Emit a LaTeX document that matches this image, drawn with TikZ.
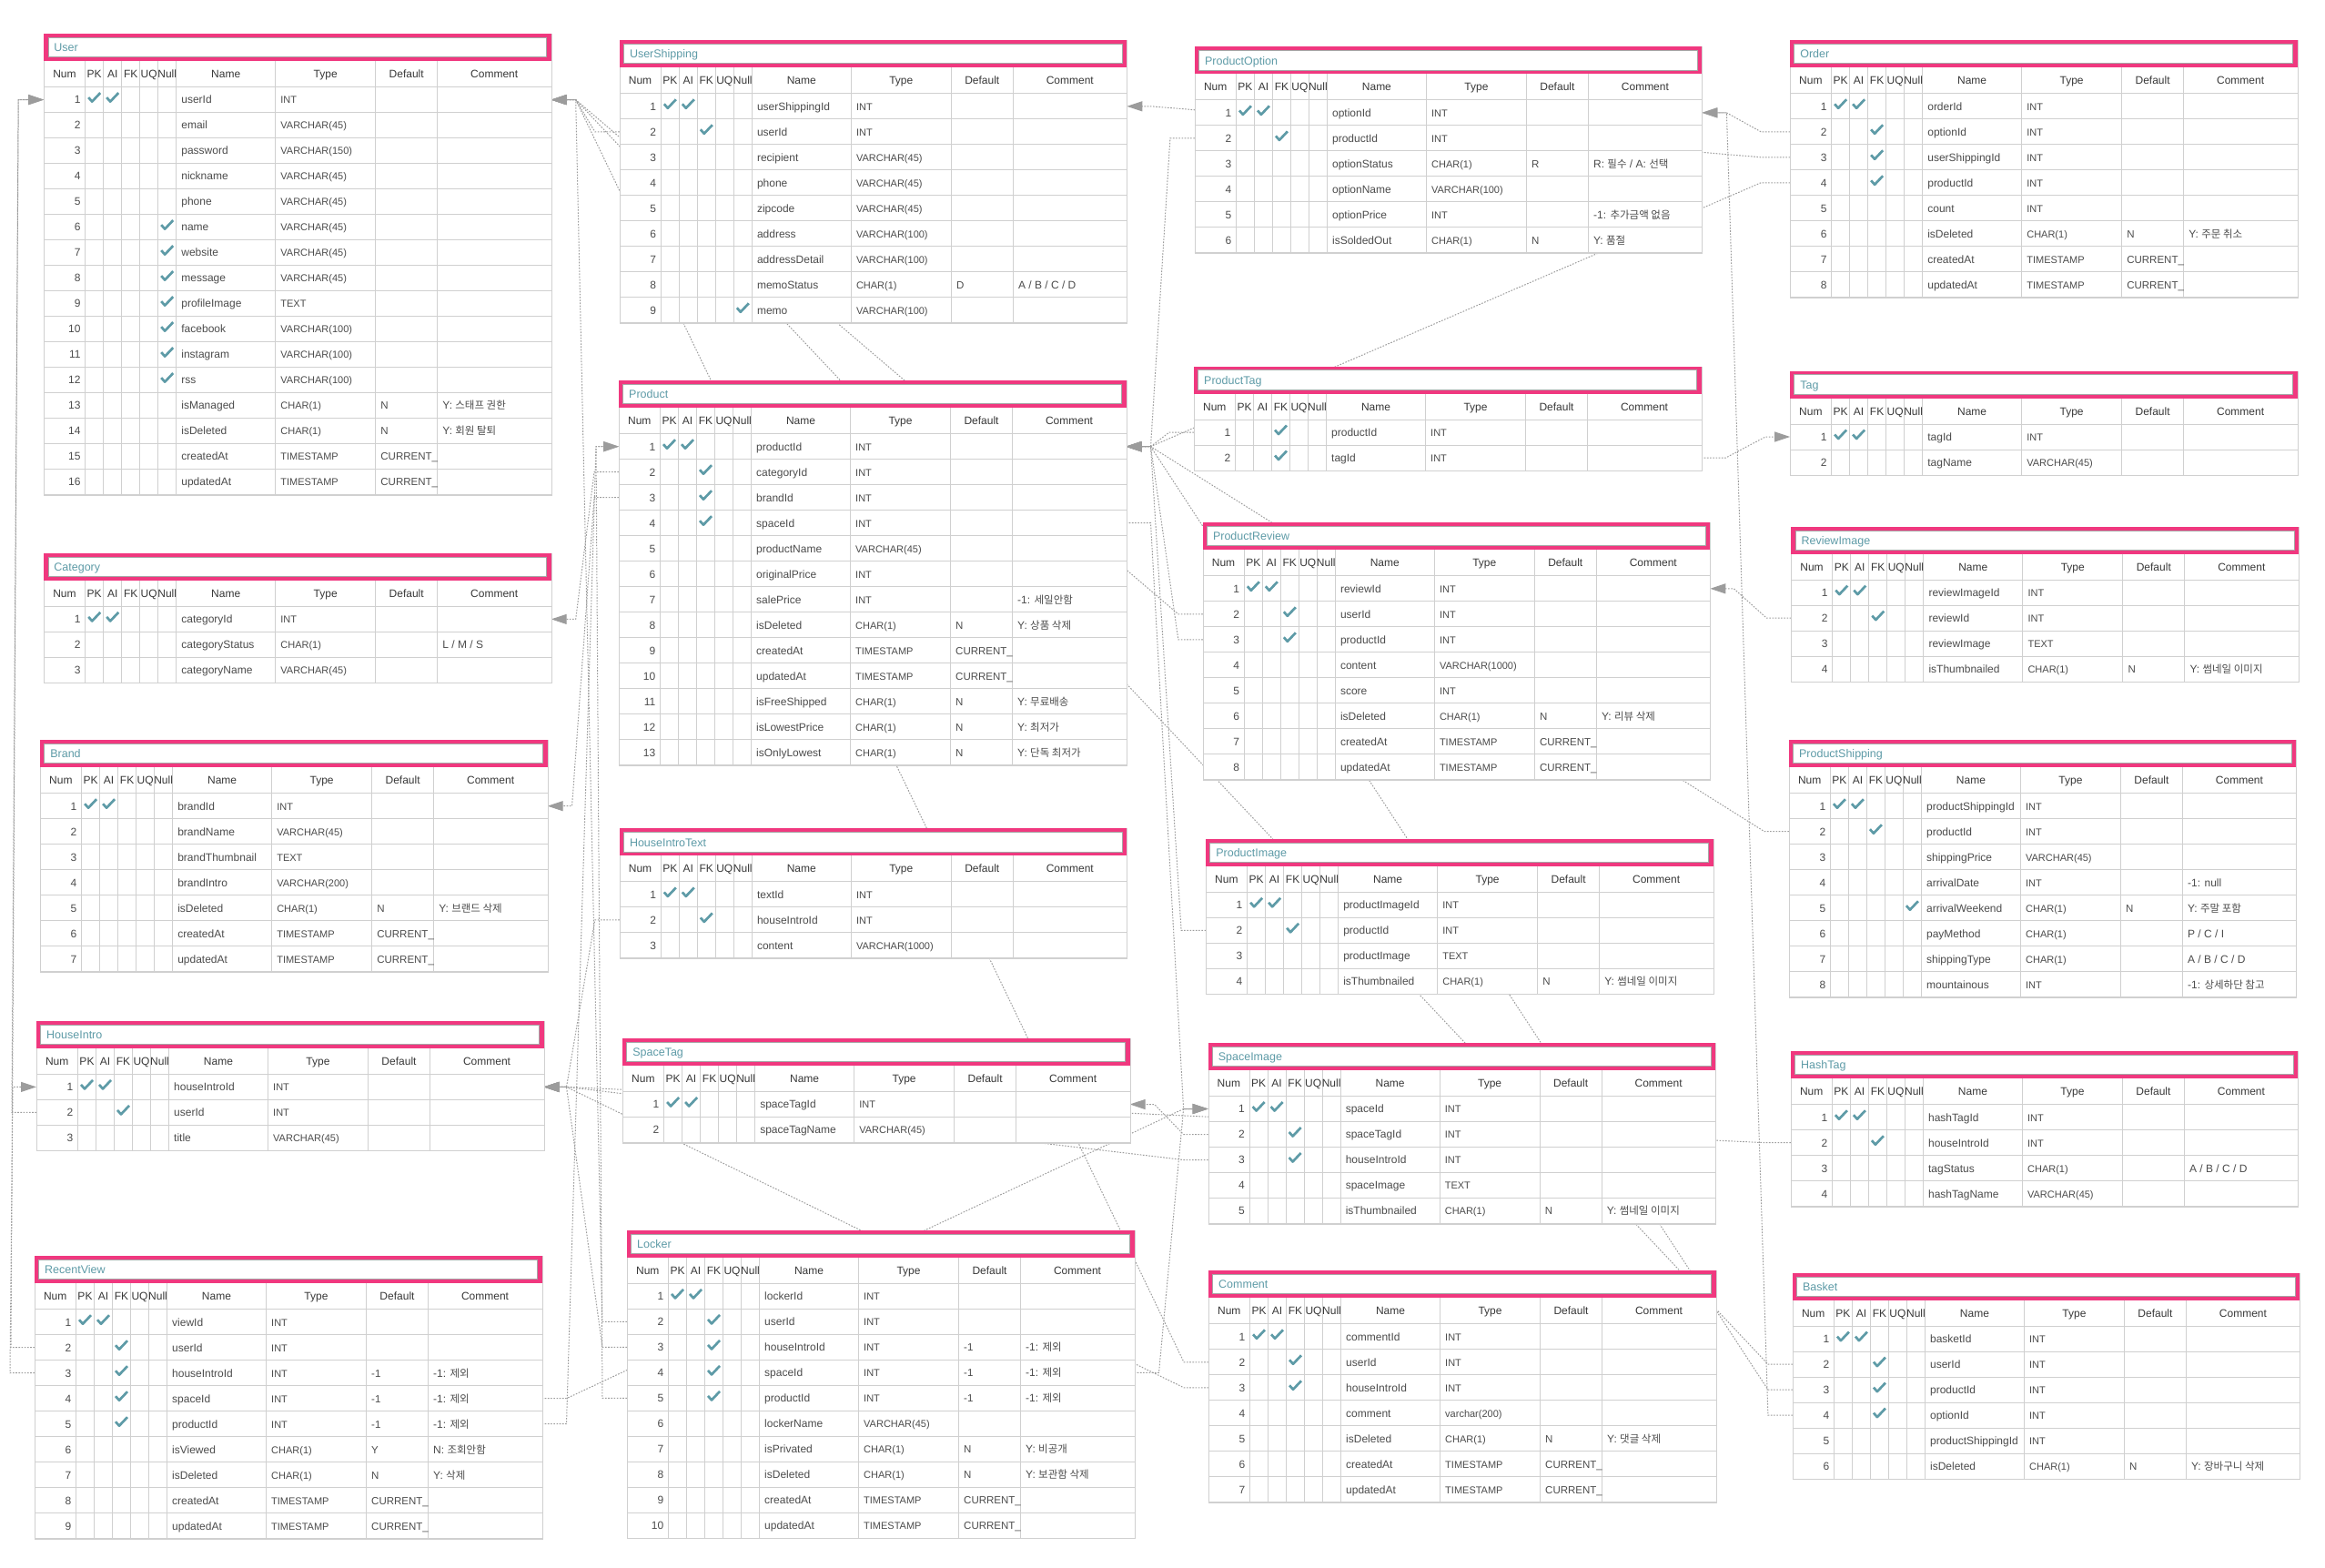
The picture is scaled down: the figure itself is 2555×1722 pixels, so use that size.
\documentclass[tikz,border=0pt]{standalone}
\usepackage{fontspec}
\setmainfont{Liberation Sans}
\newfontfamily\krfont{Noto Sans CJK KR}
\usetikzlibrary{arrows.meta,calc}
\definecolor{erpink}{HTML}{F0387F}
\definecolor{erteal}{HTML}{5E9BA7}
\definecolor{ergrid}{HTML}{D0D0D0}
\definecolor{ertext}{HTML}{4C4C4C}
\definecolor{erline}{HTML}{9C9C9C}
\pgfdeclarelayer{paper}
\pgfdeclarelayer{links}
\pgfsetlayers{paper,links,main}

\tikzset{
  tblbox/.style={draw=ergrid,fill=white,line width=1pt,inner sep=0pt,minimum width=557.5pt,anchor=north west},
  cell/.style={inner sep=0pt,anchor=base west,font=\fontsize{12}{14}\selectfont,text=ertext},
  typecell/.style={cell,font=\fontsize{11}{13}\selectfont},
  defcell/.style={cell,font=\fontsize{11.5}{13}\selectfont},
  numcell/.style={cell,anchor=base east},
  headcell/.style={cell,anchor=base,text=black!78},
  titlecell/.style={cell,text=erteal,font=\fontsize{12.5}{14}\selectfont},
  gridline/.style={ergrid,line width=1pt},
  checkmark/.style={erteal,line width=2.7pt,line join=round},
  fkline/.style={erline,line width=1pt,dash pattern=on 1.6pt off 1.6pt,-{Triangle[length=17pt,width=11pt]}}
}

\newcommand\kr[1]{{\krfont\fontsize{11.5}{13}\selectfont #1}}
% one check mark in column x of the current row
\newcommand\ercheck[1]{\draw[checkmark] (#1-6.5,\ery-2.5) -- (#1-2.5,\ery+2) -- (#1+6.5,\ery-7.5);}
\newcommand\erchecks[5]{\ifnum#1=1 \ercheck{55.5}\fi\ifnum#2=1 \ercheck{75.5}\fi\ifnum#3=1 \ercheck{95.5}\fi\ifnum#4=1 \ercheck{115.5}\fi\ifnum#5=1 \ercheck{135.5}\fi}
% row: num, flags (PK AI FK UQ Null), name, type, default, comment
\newcommand\erow[6]{%
  \pgfmathsetmacro\ery{58.5+28*#1-14}%
  \pgfmathsetmacro\erb{\ery+4.3}%
  \coordinate (\erid-#1-w) at (0,\ery);
  \coordinate (\erid-#1-e) at (557.5,\ery);
  \node[numcell] (\erid-#1-num) at (40.5,\erb) {#1};
  \erchecks#2
  \node[cell] (\erid-#1-name) at (151,\erb) {#3};
  \node[typecell] (\erid-#1-type) at (260,\erb) {#4};
  \def\ertmp{#5}\ifx\ertmp\empty\else\node[defcell] (\erid-#1-def) at (370,\erb) {#5};\fi
  \def\ertmp{#6}\ifx\ertmp\empty\else\node[cell] (\erid-#1-note) at (438,\erb) {#6};\fi
}
% table: id, title, x, y, rows, row list
\newcommand\ertable[6]{%
  \begin{scope}[shift={(#3,#4)}]
  \def\erid{#1}%
  \pgfmathsetmacro\erh{58.5+28*#5}%
  \node[tblbox,minimum height=\erh pt] (#1) at (0,0) {};
  \fill[erpink] (0,0) rectangle (557.5,30);
  \draw[fill=white,draw=black!35,line width=1pt] (4.8,4.4) rectangle (552.7,25.6);
  \node[titlecell] (#1-title) at (11,19.6) {#2};
  \draw[gridline] (0,58.5) -- (557.5,58.5);
  \foreach \gy in {1,...,#5} \draw[gridline] (0,58.5+28*\gy) -- (557.5,58.5+28*\gy);
  \foreach \gx in {45.5,65.5,85.5,105.5,125.5,145.5,254.5,364.5,432.5} \draw[gridline] (\gx,30) -- (\gx,\erh);
  \foreach \hx/\hlab in {22.75/Num,55.5/PK,75.5/AI,95.5/FK,115.5/UQ,135.5/Null,200/Name,309.5/Type,398.5/Default,495/Comment}
    \node[headcell] (#1-\hlab) at (\hx,48.5) {\hlab};
  #6
  \end{scope}}
% foreign key: fk row, stub, pk row, stub
\newcommand\fk[4]{\draw[fkline] (#1) -- ++(#2,0) -- ($(#3)+(#4,0)$) -- (#3);}

\begin{document}
\begin{tikzpicture}[x=1pt,y=-1pt]
\useasboundingbox (0,0) rectangle (2555,1722);
\begin{pgfonlayer}{paper}
\fill[white] (0,0) rectangle (2555,1722);
\end{pgfonlayer}

% left column
\ertable{user}{User}{48.2}{37.1}{16}{
\erow{1}{11000}{userId}{INT}{}{}
\erow{2}{00000}{email}{VARCHAR(45)}{}{}
\erow{3}{00000}{password}{VARCHAR(150)}{}{}
\erow{4}{00000}{nickname}{VARCHAR(45)}{}{}
\erow{5}{00000}{phone}{VARCHAR(45)}{}{}
\erow{6}{00001}{name}{VARCHAR(45)}{}{}
\erow{7}{00001}{website}{VARCHAR(45)}{}{}
\erow{8}{00001}{message}{VARCHAR(45)}{}{}
\erow{9}{00001}{profileImage}{TEXT}{}{}
\erow{10}{00001}{facebook}{VARCHAR(100)}{}{}
\erow{11}{00001}{instagram}{VARCHAR(100)}{}{}
\erow{12}{00001}{rss}{VARCHAR(100)}{}{}
\erow{13}{00000}{isManaged}{CHAR(1)}{N}{Y: \kr{스태프 권한}}
\erow{14}{00000}{isDeleted}{CHAR(1)}{N}{Y: \kr{회원 탈퇴}}
\erow{15}{00000}{createdAt}{TIMESTAMP}{CURRENT\_}{}
\erow{16}{00000}{updatedAt}{TIMESTAMP}{CURRENT\_}{}
}
\ertable{category}{Category}{48.2}{607.9}{3}{
\erow{1}{11000}{categoryId}{INT}{}{}
\erow{2}{00000}{categoryStatus}{CHAR(1)}{}{L / M / S}
\erow{3}{00000}{categoryName}{VARCHAR(45)}{}{}
}
\ertable{brand}{Brand}{44.1}{813.2}{7}{
\erow{1}{11000}{brandId}{INT}{}{}
\erow{2}{00000}{brandName}{VARCHAR(45)}{}{}
\erow{3}{00000}{brandThumbnail}{TEXT}{}{}
\erow{4}{00000}{brandIntro}{VARCHAR(200)}{}{}
\erow{5}{00000}{isDeleted}{CHAR(1)}{N}{Y: \kr{브랜드 삭제}}
\erow{6}{00000}{createdAt}{TIMESTAMP}{CURRENT\_}{}
\erow{7}{00000}{updatedAt}{TIMESTAMP}{CURRENT\_}{}
}
\ertable{houseintro}{HouseIntro}{40}{1121.9}{3}{
\erow{1}{11000}{houseIntroId}{INT}{}{}
\erow{2}{00100}{userId}{INT}{}{}
\erow{3}{00000}{title}{VARCHAR(45)}{}{}
}
\ertable{recentview}{RecentView}{38}{1380.2}{9}{
\erow{1}{11000}{viewId}{INT}{}{}
\erow{2}{00100}{userId}{INT}{}{}
\erow{3}{00100}{houseIntroId}{INT}{-1}{-1: \kr{제외}}
\erow{4}{00100}{spaceId}{INT}{-1}{-1: \kr{제외}}
\erow{5}{00100}{productId}{INT}{-1}{-1: \kr{제외}}
\erow{6}{00000}{isViewed}{CHAR(1)}{Y}{N: \kr{조회안함}}
\erow{7}{00000}{isDeleted}{CHAR(1)}{N}{Y: \kr{삭제}}
\erow{8}{00000}{createdAt}{TIMESTAMP}{CURRENT\_}{}
\erow{9}{00000}{updatedAt}{TIMESTAMP}{CURRENT\_}{}
}

% second column
\ertable{usershipping}{UserShipping}{680.8}{44.3}{9}{
\erow{1}{11000}{userShippingId}{INT}{}{}
\erow{2}{00100}{userId}{INT}{}{}
\erow{3}{00000}{recipient}{VARCHAR(45)}{}{}
\erow{4}{00000}{phone}{VARCHAR(45)}{}{}
\erow{5}{00000}{zipcode}{VARCHAR(45)}{}{}
\erow{6}{00000}{address}{VARCHAR(100)}{}{}
\erow{7}{00000}{addressDetail}{VARCHAR(100)}{}{}
\erow{8}{00000}{memoStatus}{CHAR(1)}{D}{A / B / C / D}
\erow{9}{00001}{memo}{VARCHAR(100)}{}{}
}
\ertable{product}{Product}{680}{418.2}{13}{
\erow{1}{11000}{productId}{INT}{}{}
\erow{2}{00100}{categoryId}{INT}{}{}
\erow{3}{00100}{brandId}{INT}{}{}
\erow{4}{00100}{spaceId}{INT}{}{}
\erow{5}{00000}{productName}{VARCHAR(45)}{}{}
\erow{6}{00000}{originalPrice}{INT}{}{}
\erow{7}{00000}{salePrice}{INT}{}{-1: \kr{세일안함}}
\erow{8}{00000}{isDeleted}{CHAR(1)}{N}{Y: \kr{상품 삭제}}
\erow{9}{00000}{createdAt}{TIMESTAMP}{CURRENT\_}{}
\erow{10}{00000}{updatedAt}{TIMESTAMP}{CURRENT\_}{}
\erow{11}{00000}{isFreeShipped}{CHAR(1)}{N}{Y: \kr{무료배송}}
\erow{12}{00000}{isLowestPrice}{CHAR(1)}{N}{Y: \kr{최저가}}
\erow{13}{00000}{isOnlyLowest}{CHAR(1)}{N}{Y: \kr{단독 최저가}}
}
\ertable{houseintrotext}{HouseIntroText}{680.8}{910.4}{3}{
\erow{1}{11000}{textId}{INT}{}{}
\erow{2}{00100}{houseIntroId}{INT}{}{}
\erow{3}{00000}{content}{VARCHAR(1000)}{}{}
}
\ertable{spacetag}{SpaceTag}{684.1}{1141}{2}{
\erow{1}{11000}{spaceTagId}{INT}{}{}
\erow{2}{00000}{spaceTagName}{VARCHAR(45)}{}{}
}
\ertable{locker}{Locker}{689}{1351.9}{10}{
\erow{1}{11000}{lockerId}{INT}{}{}
\erow{2}{00100}{userId}{INT}{}{}
\erow{3}{00100}{houseIntroId}{INT}{-1}{-1: \kr{제외}}
\erow{4}{00100}{spaceId}{INT}{-1}{-1: \kr{제외}}
\erow{5}{00100}{productId}{INT}{-1}{-1: \kr{제외}}
\erow{6}{00000}{lockerName}{VARCHAR(45)}{}{}
\erow{7}{00000}{isPrivated}{CHAR(1)}{N}{Y: \kr{비공개}}
\erow{8}{00000}{isDeleted}{CHAR(1)}{N}{Y: \kr{보관함 삭제}}
\erow{9}{00000}{createdAt}{TIMESTAMP}{CURRENT\_}{}
\erow{10}{00000}{updatedAt}{TIMESTAMP}{CURRENT\_}{}
}

% third column
\ertable{productoption}{ProductOption}{1312.9}{51.4}{6}{
\erow{1}{11000}{optionId}{INT}{}{}
\erow{2}{00100}{productId}{INT}{}{}
\erow{3}{00000}{optionStatus}{CHAR(1)}{R}{R: \kr{필수} / A: \kr{선택}}
\erow{4}{00000}{optionName}{VARCHAR(100)}{}{}
\erow{5}{00000}{optionPrice}{INT}{}{-1: \kr{추가금액 없음}}
\erow{6}{00000}{isSoldedOut}{CHAR(1)}{N}{Y: \kr{품절}}
}
\ertable{producttag}{ProductTag}{1312}{402.5}{2}{
\erow{1}{00100}{productId}{INT}{}{}
\erow{2}{00100}{tagId}{INT}{}{}
}
\ertable{productreview}{ProductReview}{1321.8}{574.3}{8}{
\erow{1}{11000}{reviewId}{INT}{}{}
\erow{2}{00100}{userId}{INT}{}{}
\erow{3}{00100}{productId}{INT}{}{}
\erow{4}{00000}{content}{VARCHAR(1000)}{}{}
\erow{5}{00000}{score}{INT}{}{}
\erow{6}{00000}{isDeleted}{CHAR(1)}{N}{Y: \kr{리뷰 삭제}}
\erow{7}{00000}{createdAt}{TIMESTAMP}{CURRENT\_}{}
\erow{8}{00000}{updatedAt}{TIMESTAMP}{CURRENT\_}{}
}
\ertable{productimage}{ProductImage}{1325.1}{921.8}{4}{
\erow{1}{11000}{productImageId}{INT}{}{}
\erow{2}{00100}{productId}{INT}{}{}
\erow{3}{00000}{productImage}{TEXT}{}{}
\erow{4}{00000}{isThumbnailed}{CHAR(1)}{N}{Y: \kr{썸네일 이미지}}
}
\ertable{spaceimage}{SpaceImage}{1327.6}{1146}{5}{
\erow{1}{11000}{spaceId}{INT}{}{}
\erow{2}{00100}{spaceTagId}{INT}{}{}
\erow{3}{00100}{houseIntroId}{INT}{}{}
\erow{4}{00000}{spaceImage}{TEXT}{}{}
\erow{5}{00000}{isThumbnailed}{CHAR(1)}{N}{Y: \kr{썸네일 이미지}}
}
\ertable{comment}{Comment}{1328}{1396.3}{7}{
\erow{1}{11000}{commentId}{INT}{}{}
\erow{2}{00100}{userId}{INT}{}{}
\erow{3}{00100}{houseIntroId}{INT}{}{}
\erow{4}{00000}{comment}{varchar(200)}{}{}
\erow{5}{00000}{isDeleted}{CHAR(1)}{N}{Y: \kr{댓글 삭제}}
\erow{6}{00000}{createdAt}{TIMESTAMP}{CURRENT\_}{}
\erow{7}{00000}{updatedAt}{TIMESTAMP}{CURRENT\_}{}
}

% right column
\ertable{order}{Order}{1967.1}{44.3}{8}{
\erow{1}{11000}{orderId}{INT}{}{}
\erow{2}{00100}{optionId}{INT}{}{}
\erow{3}{00100}{userShippingId}{INT}{}{}
\erow{4}{00100}{productId}{INT}{}{}
\erow{5}{00000}{count}{INT}{}{}
\erow{6}{00000}{isDeleted}{CHAR(1)}{N}{Y: \kr{주문 취소}}
\erow{7}{00000}{createdAt}{TIMESTAMP}{CURRENT\_}{}
\erow{8}{00000}{updatedAt}{TIMESTAMP}{CURRENT\_}{}
}
\ertable{tag}{Tag}{1967.1}{407.5}{2}{
\erow{1}{11000}{tagId}{INT}{}{}
\erow{2}{00000}{tagName}{VARCHAR(45)}{}{}
}
\ertable{reviewimage}{ReviewImage}{1968.3}{578.6}{4}{
\erow{1}{11000}{reviewImageId}{INT}{}{}
\erow{2}{00100}{reviewId}{INT}{}{}
\erow{3}{00000}{reviewImage}{TEXT}{}{}
\erow{4}{00000}{isThumbnailed}{CHAR(1)}{N}{Y: \kr{썸네일 이미지}}
}
\ertable{productshipping}{ProductShipping}{1965.9}{813.2}{8}{
\erow{1}{11000}{productShippingId}{INT}{}{}
\erow{2}{00100}{productId}{INT}{}{}
\erow{3}{00000}{shippingPrice}{VARCHAR(45)}{}{}
\erow{4}{00000}{arrivalDate}{INT}{}{-1: null}
\erow{5}{00001}{arrivalWeekend}{CHAR(1)}{N}{Y: \kr{주말 포함}}
\erow{6}{00000}{payMethod}{CHAR(1)}{}{P / C / I}
\erow{7}{00000}{shippingType}{CHAR(1)}{}{A / B / C / D}
\erow{8}{00000}{mountainous}{INT}{}{-1: \kr{상세하단 참고}}
}
\ertable{hashtag}{HashTag}{1967.9}{1155.2}{4}{
\erow{1}{11000}{hashTagId}{INT}{}{}
\erow{2}{00100}{houseIntroId}{INT}{}{}
\erow{3}{00000}{tagStatus}{CHAR(1)}{}{A / B / C / D}
\erow{4}{00000}{hashTagName}{VARCHAR(45)}{}{}
}
\ertable{basket}{Basket}{1969.9}{1398.6}{6}{
\erow{1}{11000}{basketId}{INT}{}{}
\erow{2}{00100}{userId}{INT}{}{}
\erow{3}{00100}{productId}{INT}{}{}
\erow{4}{00100}{optionId}{INT}{}{}
\erow{5}{00000}{productShippingId}{INT}{}{}
\erow{6}{00000}{isDeleted}{CHAR(1)}{N}{Y: \kr{장바구니 삭제}}
}

% relations, under the tables
\begin{pgfonlayer}{links}
\fk{houseintro-2-w}{-27}{user-1-w}{-28}
\fk{recentview-2-w}{-26}{user-1-w}{-28}
\fk{recentview-3-w}{-27}{houseintro-1-w}{-26}
\fk{recentview-4-e}{27}{spaceimage-1-w}{-27}
\fk{recentview-5-e}{27}{product-1-w}{-25}
\fk{usershipping-2-w}{-27}{user-1-e}{27}
\fk{product-2-w}{-27}{category-1-e}{27}
\fk{product-3-w}{-27}{brand-1-e}{27}
\fk{product-4-e}{27}{spaceimage-1-w}{-27}
\fk{houseintrotext-2-w}{-27}{houseintro-1-e}{25}
\fk{locker-2-w}{-27}{user-1-e}{27}
\fk{locker-3-w}{-27}{houseintro-1-e}{25}
\fk{locker-4-e}{27}{spaceimage-1-w}{-27}
\fk{locker-5-w}{-27}{product-1-w}{-25}
\fk{productoption-2-w}{-27}{product-1-e}{27}
\fk{producttag-1-w}{-27}{product-1-e}{27}
\fk{producttag-2-e}{27}{tag-1-w}{-27}
\fk{productreview-2-w}{-27}{user-1-e}{27}
\fk{productreview-3-w}{-27}{product-1-e}{27}
\fk{productimage-2-w}{-27}{product-1-e}{27}
\fk{spaceimage-2-w}{-27}{spacetag-1-e}{27}
\fk{spaceimage-3-w}{-27}{houseintro-1-e}{25}
\fk{comment-2-w}{-27}{user-1-e}{27}
\fk{comment-3-w}{-27}{houseintro-1-e}{25}
\fk{order-2-w}{-32}{productoption-1-e}{27}
\fk{order-3-w}{-32}{usershipping-1-e}{27}
\fk{order-4-w}{-32}{product-1-e}{27}
\fk{reviewimage-2-w}{-27}{productreview-1-e}{26}
\fk{productshipping-2-w}{-27}{product-1-e}{27}
\fk{hashtag-2-w}{-27}{houseintro-1-e}{25}
\fk{basket-2-w}{-27}{user-1-e}{27}
\fk{basket-3-w}{-27}{product-1-e}{27}
\fk{basket-4-w}{-27}{productoption-1-e}{27}
\end{pgfonlayer}
\end{tikzpicture}
\end{document}
